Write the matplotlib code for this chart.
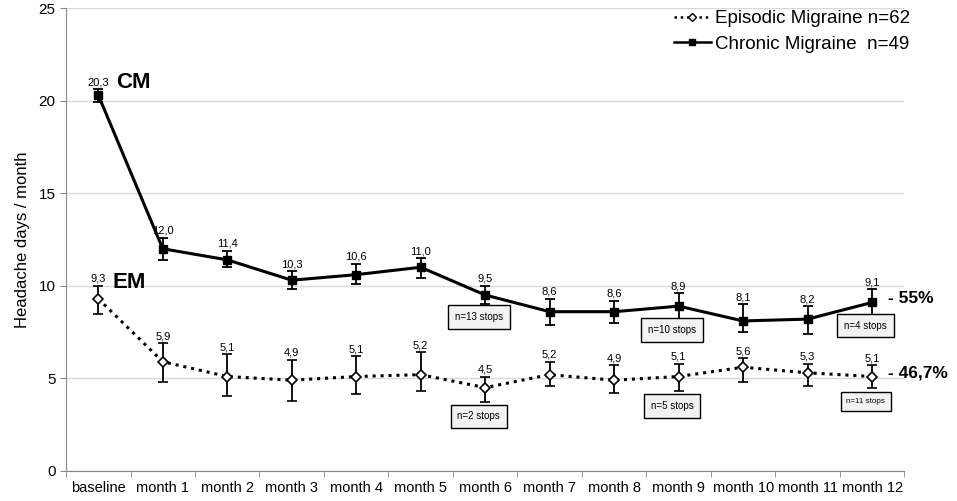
import numpy as np
import matplotlib
matplotlib.use("Agg")
import matplotlib.pyplot as plt
from matplotlib.lines import Line2D

plt.rcParams['font.family'] = ['Liberation Sans', 'DejaVu Sans']

# Categories
months = ['baseline', 'month 1', 'month 2', 'month 3', 'month 4', 'month 5', 'month 6',
          'month 7', 'month 8', 'month 9', 'month 10', 'month 11', 'month 12']

# Chronic migraine: mean and error bar ends
cm_mean = [20.3, 12.0, 11.4, 10.3, 10.6, 11.0, 9.5, 8.6, 8.6, 8.9, 8.1, 8.2, 9.1]
cm_low = [19.9, 11.4, 11.0, 9.8, 10.1, 10.4, 9.0, 7.9, 8.0, 8.0, 7.5, 7.4, 8.3]
cm_high = [20.6, 12.6, 11.9, 10.8, 11.2, 11.5, 10.0, 9.3, 9.2, 9.6, 9.0, 8.9, 9.8]

# Episodic migraine: mean and error bar ends
em_mean = [9.3, 5.9, 5.1, 4.9, 5.1, 5.2, 4.5, 5.2, 4.9, 5.1, 5.6, 5.3, 5.1]
em_low = [8.5, 4.8, 4.05, 3.8, 4.15, 4.3, 3.7, 4.6, 4.2, 4.3, 4.8, 4.6, 4.5]
em_high = [10.0, 6.9, 6.3, 6.0, 6.2, 6.4, 5.1, 5.9, 5.7, 5.8, 6.1, 5.8, 5.7]

# Stop annotations (month index, y, text)
cm_stops = [(6, 8.3, 'n=13 stops'), (9, 7.6, 'n=10 stops'), (12, 7.85, 'n=4 stops')]
em_stops = [(6, 2.95, 'n=2 stops'), (9, 3.5, 'n=5 stops'), (12, 3.75, 'n=11 stops')]

x = np.arange(len(months))

fig = plt.figure(figsize=(9.57, 5.01), dpi=100)
ax = fig.add_axes([0.069, 0.06, 0.876, 0.924])

cm_err = [np.array(cm_mean) - np.array(cm_low), np.array(cm_high) - np.array(cm_mean)]
em_err = [np.array(em_mean) - np.array(em_low), np.array(em_high) - np.array(em_mean)]

em_style = dict(color='black', lw=2.2, ls=(0, (1, 1.6)), marker='D', ms=5.5,
                mfc='white', mec='black', mew=1.2)
cm_style = dict(color='black', lw=2.2, ls='-', marker='s', ms=5.5,
                mfc='black', mec='black')

ax.errorbar(x, em_mean, yerr=em_err, ecolor='black', elinewidth=1.3, capsize=3.5,
            capthick=1.3, zorder=3, **em_style)
ax.errorbar(x, cm_mean, yerr=cm_err, ecolor='black', elinewidth=1.3, capsize=3.5,
            capthick=1.3, zorder=3, **cm_style)

# data labels
for xi, m, h in zip(x, cm_mean, cm_high):
    ax.text(xi, h + 0.1, f'{m:.1f}'.replace('.', ','), ha='center', va='bottom', fontsize=8)
for xi, m, h in zip(x, em_mean, em_high):
    ax.text(xi, h + 0.1, f'{m:.1f}'.replace('.', ','), ha='center', va='bottom', fontsize=8)

box = dict(boxstyle='square,pad=0.7', fc='#f2f2f2', ec='black', lw=1)
for i, y, t in cm_stops + em_stops:
    fs = 5.8 if t == 'n=11 stops' else 7
    ax.text(i - 0.1, y, t, ha='center', va='center', fontsize=fs, bbox=box, zorder=4)

ax.text(0.28, 21.0, 'CM', fontsize=16, fontweight='bold', ha='left', va='center')
ax.text(0.22, 10.2, 'EM', fontsize=16, fontweight='bold', ha='left', va='center')
ax.text(12.25, 9.3, '- 55%', fontsize=12.5, fontweight='bold', ha='left', va='center')
ax.text(12.25, 5.3, '- 46,7%', fontsize=12.5, fontweight='bold', ha='left', va='center')

ax.set_xlim(-0.5, 12.5)
ax.set_ylim(0, 25)
ax.set_yticks(np.arange(0, 26, 5))
ax.set_xticks(x)
ax.set_xticklabels(months, fontsize=10.5)
ax.set_xticks(np.arange(-0.5, 13, 1), minor=True)
ax.tick_params(axis='x', which='major', length=0, pad=7)
ax.tick_params(axis='x', which='minor', length=4, color='#888888')
ax.tick_params(axis='y', length=4, color='#888888', labelsize=11)
ax.set_ylabel('Headache days / month', fontsize=12, labelpad=6)

ax.grid(axis='y', color='#d9d9d9', lw=1)
ax.set_axisbelow(True)
for s in ['top', 'right']:
    ax.spines[s].set_visible(False)
for s in ['left', 'bottom']:
    ax.spines[s].set_color('#888888')

handles = [Line2D([], [], lw=1.8, ls=(0, (1, 1.5)), color='black', marker='D', ms=4.5,
                  mfc='white', mec='black', mew=1),
           Line2D([], [], lw=1.8, ls='-', color='black', marker='s', ms=4.5)]
labels = ['Episodic Migraine n=62', 'Chronic Migraine  n=49']
ax.legend(handles, labels, loc='upper right', bbox_to_anchor=(1.02, 1.02), frameon=False,
          fontsize=13.5, handlelength=2.0, handletextpad=0.2, labelspacing=0.45,
          borderaxespad=0.2)

fig.savefig('out.png', dpi=100)
